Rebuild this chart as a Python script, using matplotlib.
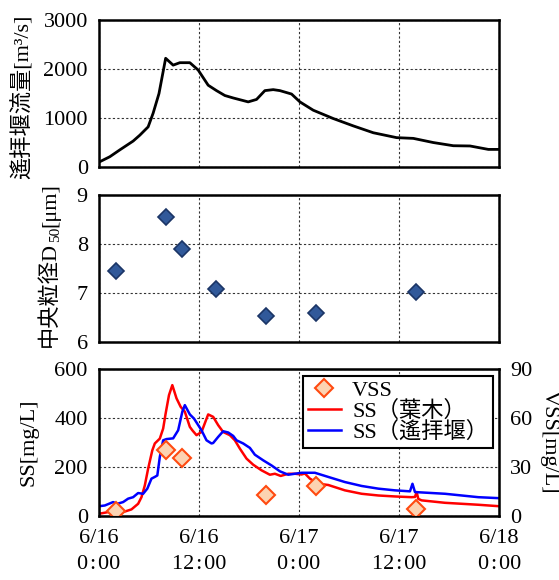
import matplotlib
matplotlib.use("Agg")
import matplotlib.pyplot as plt
from matplotlib.lines import Line2D
from matplotlib.transforms import IdentityTransform

plt.rcParams['font.family'] = ['Liberation Serif', 'Noto Sans CJK JP', 'DejaVu Sans']
plt.rcParams['font.size'] = 16

# hours since 6/16 0:00
flow_t = [0, 1.3, 2.5, 4.1, 4.9, 5.9, 6.5, 7.2, 7.7, 8.0, 8.9, 9.7, 10.9, 11.9, 13.1,
          14.1, 15.1, 16.1, 17.9, 18.9, 19.9, 20.9, 21.7, 23.1, 24.1, 25.7, 28.1,
          30.5, 32.9, 35.7, 37.7, 40.1, 42.5, 44.5, 46.7, 48]
flow = [100, 210, 350, 530, 650, 820, 1100, 1500, 1950, 2220, 2080, 2130, 2130, 1980, 1670,
        1560, 1460, 1410, 1330, 1380, 1560, 1580, 1560, 1490, 1330, 1160, 990,
        840, 700, 600, 585, 500, 435, 430, 360, 360]

d50_t = [2, 8, 10, 14, 20, 26, 38]
d50 = [7.45, 8.55, 7.89, 7.08, 6.54, 6.59, 7.02]

vss_t = [2, 8, 10, 20, 26, 38]
vss = [2.7, 40.2, 35.3, 12.3, 18.0, 3.7]

hagi_t = [0, 1.1, 1.9, 2.9, 3.9, 4.7, 5.1, 5.5, 5.9, 6.4, 6.7, 7.3, 7.7, 8.0, 8.4, 8.8,
          9.3, 9.8, 10.3, 10.9, 11.2, 11.7, 12.3, 13.1, 13.7, 14.3, 14.9, 15.7, 16.3,
          16.9, 17.7, 18.5, 19.5, 20.5, 21.1, 21.8, 22.7, 23.5, 24.3, 24.7, 25.3,
          26.3, 27.5, 29.5, 31.5, 33.5, 35.5, 37.5, 37.9, 38.1, 38.3, 38.7, 41.5,
          45.5, 48]
ss_hagi = [7, 14, 20, 14, 25, 48, 75, 123, 192, 267, 295, 315, 356, 418, 493, 534,
           480, 445, 425, 363, 349, 329, 342, 414, 404, 370, 342, 329, 308,
           274, 233, 208, 185, 167, 171, 162, 171, 171, 168, 172, 151,
           130, 125, 103, 89, 82, 78, 75, 76, 96, 68, 62, 52,
           44, 38]

yoha_t = [0, 0.7, 1.7, 2.2, 2.9, 3.5, 4.1, 4.7, 5.3, 5.8, 6.3, 6.7, 7.0, 7.3, 7.7, 8.1,
          8.9, 9.5, 10.0, 10.3, 10.9, 11.4, 12.3, 12.9, 13.5, 13.7, 14.3, 14.9, 15.5,
          16.1, 16.5, 17.3, 18.1, 18.7, 19.7, 20.7, 21.7, 22.7, 23.5, 24.3, 25.9,
          27.5, 29.5, 31.5, 33.5, 35.5, 37.3, 37.6, 37.9, 41.5, 45.5, 48]
ss_yoha = [38, 41, 55, 48, 55, 69, 75, 92, 89, 110, 151, 158, 164, 240, 308, 313,
           316, 349, 425, 452, 414, 397, 349, 308, 295, 297, 322, 345, 340,
           326, 308, 295, 277, 249, 226, 205, 181, 167, 171, 175, 175,
           158, 137, 121, 110, 103, 99, 130, 96, 89, 75, 71]

xticks = [0, 12, 24, 36, 48]
xticklabels = ['6/16\n0\u200a:\u200a00', '6/16\n12\u200a:\u200a00', '6/17\n0\u200a:\u200a00',
               '6/17\n12\u200a:\u200a00', '6/18\n0\u200a:\u200a00']

fig = plt.figure(figsize=(5.59, 5.80), dpi=100)
left, width = 0.177, 0.716
ax1 = fig.add_axes([left, 0.712, width, 0.2534])
ax2 = fig.add_axes([left, 0.4103, width, 0.2534])
ax3 = fig.add_axes([left, 0.1112, width, 0.2526])

grid_kw = dict(color='#333333', linestyle=(0, (2, 2)), linewidth=0.8)

for ax in (ax1, ax2, ax3):
    ax.set_xlim(0, 48)
    ax.set_xticks(xticks)
    ax.grid(True, **grid_kw)
    ax.set_axisbelow(True)
    ax.tick_params(length=0, pad=8, labelsize=16)
    for s in ax.spines.values():
        s.set_linewidth(1.8)

ax1.plot(flow_t, flow, color='black', lw=2)
ax1.set_ylim(0, 3000)
ax1.set_yticks([0, 1000, 2000, 3000])
ax1.set_xticklabels([])
ax1.set_ylabel('遙拝堰流量[m³/s]', fontsize=16, va='center')
ax1.yaxis.set_label_coords(-0.19, 0.48)

ax2.plot(d50_t, d50, linestyle='none', marker='D', markersize=8.5,
         markerfacecolor='#31599A', markeredgecolor='#1B3566', markeredgewidth=1.2)
ax2.set_ylim(6, 9)
ax2.set_yticks([6, 7, 8, 9])
ax2.set_xticklabels([])

# middle y label with a subscript, built from pieces (rotated 90 deg)
pieces = [('中央粒径D', 16, 0), ('50', 11, 4), ('[μm]', 16, 0)]
parts = []
for s, size, dx in pieces:
    parts.append(fig.text(0, 0, s, rotation=90, rotation_mode='anchor', ha='left',
                          va='baseline', fontsize=size, transform=IdentityTransform()))
fig.canvas.draw()
renderer = fig.canvas.get_renderer()
lengths = [t.get_window_extent(renderer).height for t in parts]
y_pos = 580 - 265 - sum(lengths) / 2
for t, L, (s, size, dx) in zip(parts, lengths, pieces):
    t.set_position((55 + dx, y_pos))
    y_pos += L

ax3.plot(hagi_t, ss_hagi, color='#FF0000', lw=1.8)
ax3.plot(yoha_t, ss_yoha, color='#0000FF', lw=1.8)
ax3.set_ylim(0, 600)
ax3.set_yticks([0, 200, 400, 600])
ax3.set_xticklabels(xticklabels, linespacing=1.5)
ax3.tick_params(axis='x', pad=10)
ax3.set_ylabel('SS[mg/L]', fontsize=16, va='center')
ax3.yaxis.set_label_coords(-0.176, 0.5)

ax4 = ax3.twinx()
ax4.plot(vss_t, vss, linestyle='none', marker='D', markersize=9,
         markerfacecolor='#FCD3B2', markeredgecolor='#FF4A10', markeredgewidth=1.5)
ax4.set_ylim(0, 90)
ax4.set_yticks([0, 30, 60, 90])
ax4.tick_params(length=0, pad=8, labelsize=16)
ax4.set_ylabel('VSS[mg/L]', fontsize=16, rotation=270, va='center')
ax4.yaxis.set_label_coords(1.125, 0.5)

handles = [Line2D([], [], linestyle='none', marker='D', markersize=9,
                  markerfacecolor='#FCD3B2', markeredgecolor='#FF4A10', markeredgewidth=1.5),
           Line2D([], [], color='#FF0000', lw=1.8),
           Line2D([], [], color='#0000FF', lw=1.8)]
labels = ['VSS', 'SS（葉木）', 'SS（遙拝堰）']
leg = ax4.legend(handles, labels, loc='upper right', fontsize=16, frameon=True,
                 fancybox=False, framealpha=1, edgecolor='black',
                 borderaxespad=0.3, handlelength=1.5, labelspacing=0.0,
                 borderpad=0.2, handletextpad=0.5)
leg.get_frame().set_linewidth(1.5)

fig.savefig('out.png', dpi=100)
